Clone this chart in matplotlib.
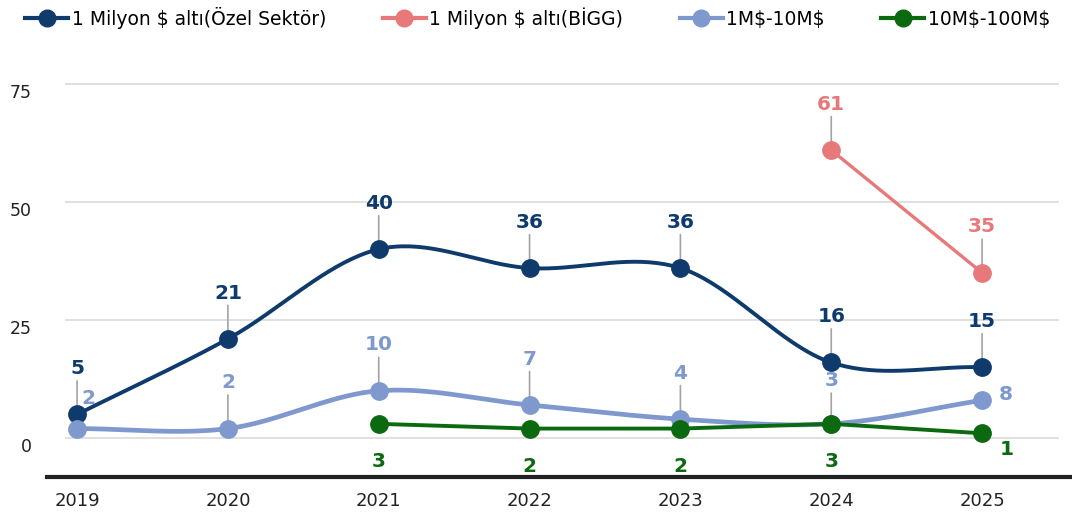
import numpy as np
import matplotlib.pyplot as plt
import matplotlib.transforms as mtransforms
from matplotlib.lines import Line2D

# chart data
years = [2019, 2020, 2021, 2022, 2023, 2024, 2025]
ozel = [5, 21, 40, 36, 36, 16, 15]
bigg = [np.nan, np.nan, np.nan, np.nan, np.nan, 61, 35]
m1_10 = [2, 2, 10, 7, 4, 3, 8]
m10_100 = [np.nan, np.nan, 3, 2, 2, 3, 1]
series_names = ['1 Milyon \\$ altı(Özel Sektör)', '1 Milyon \\$ altı(BİGG)', '1M\\$-10M\\$', '10M\\$-100M\\$']
yticks = [0, 25, 50, 75]

NAVY = '#0f3a6c'
PINK = '#e7797b'
LBLUE = '#7f99cf'
GREEN = '#0b6a10'
LEADER = '#a3a3a3'

plt.rcParams['font.family'] = ['DejaVu Sans']


# Excel-like smoothed line (cubic Hermite through the points)
def smooth(xs, ys, n=40):
    xs = np.asarray(xs, float)
    ys = np.asarray(ys, float)
    m = np.gradient(ys, xs)
    outx, outy = [], []
    for i in range(len(xs) - 1):
        h = xs[i + 1] - xs[i]
        t = np.linspace(0, 1, n)
        h00 = 2 * t**3 - 3 * t**2 + 1
        h10 = t**3 - 2 * t**2 + t
        h01 = -2 * t**3 + 3 * t**2
        h11 = t**3 - t**2
        outx.extend(xs[i] + t * h)
        outy.extend(h00 * ys[i] + h10 * h * m[i] + h01 * ys[i + 1] + h11 * h * m[i + 1])
    return outx, outy


fig = plt.figure(figsize=(10.72, 5.22), dpi=100)
ax = fig.add_axes([65 / 1072, 45 / 522, 994 / 1072, 407 / 522])

# lines
sx, sy = smooth(years, ozel)
ax.plot(sx, sy, color=NAVY, lw=2.8, zorder=4, solid_capstyle='round')
ax.plot(years, ozel, 'o', color=NAVY, ms=12.5, zorder=4)

ax.plot(years, bigg, '-o', color=PINK, lw=2.4, ms=12.5, zorder=4)

sx, sy = smooth(years, m1_10)
ax.plot(sx, sy, color=LBLUE, lw=3.4, zorder=5, solid_capstyle='round')
ax.plot(years, m1_10, 'o', color=LBLUE, ms=12.5, zorder=5)

ax.plot(years, m10_100, '-o', color=GREEN, lw=2.8, ms=12.5, zorder=6)


# data labels (offsets in points)
def label(x, y, color, dx=0, dy=33, leader=True):
    arrow = dict(arrowstyle='-', color=LEADER, lw=1.2, shrinkA=0, shrinkB=0) if leader else None
    ax.annotate(f'{y:g}', xy=(x, y), xytext=(dx, dy), textcoords='offset points',
                ha='center', va='center', fontsize=14.5, fontweight='bold', color=color,
                arrowprops=arrow, zorder=3)


for x, v in zip(years, ozel):
    label(x, v, NAVY)
for x, v in zip(years, bigg):
    if not np.isnan(v):
        label(x, v, PINK)
for i, (x, v) in enumerate(zip(years, m1_10)):
    if i == 0:
        label(x, v, LBLUE, dx=8, dy=22, leader=False)
    elif i == len(years) - 1:
        label(x, v, LBLUE, dx=17, dy=4, leader=False)
    elif i == 5:
        label(x, v, LBLUE, dy=31)
    else:
        label(x, v, LBLUE)
for i, (x, v) in enumerate(zip(years, m10_100)):
    if np.isnan(v):
        continue
    if i == len(years) - 1:
        label(x, v, GREEN, dx=18, dy=-12, leader=False)
    else:
        label(x, v, GREEN, dy=-27, leader=False)

# axes styling
ax.set_xlim(2018.92, 2025.51)
ax.set_ylim(-8.26, 77.97)
ax.set_yticks(yticks)
ax.set_xticks(years)
ax.grid(axis='y', color='#dadada', lw=1.2)
ax.set_axisbelow(True)
for s in ax.spines.values():
    s.set_visible(False)
ax.tick_params(axis='y', length=0, pad=24, labelsize=12.5, labelcolor='#222222')
ax.tick_params(axis='x', length=0, pad=11, labelsize=13, labelcolor='#222222')
shift = mtransforms.ScaledTranslation(0, -7 / 100, fig.dpi_scale_trans)
for t in ax.get_yticklabels():
    t.set_transform(t.get_transform() + shift)
ax.axhline(-8.26, xmin=-0.018, xmax=1.02, color='#222222', lw=3, clip_on=False, zorder=1)

# legend
handles = [Line2D([], [], color=c, lw=3, marker='o', ms=12)
           for c in (NAVY, PINK, LBLUE, GREEN)]
fig.legend(handles, series_names, loc='center left', bbox_to_anchor=(25 / 1072, 1 - 18 / 522),
           ncol=4, frameon=False, fontsize=13.5, handlelength=2.3, handletextpad=0.2,
           columnspacing=3.0, borderpad=0, borderaxespad=0)

fig.savefig('out.png', dpi=100)
